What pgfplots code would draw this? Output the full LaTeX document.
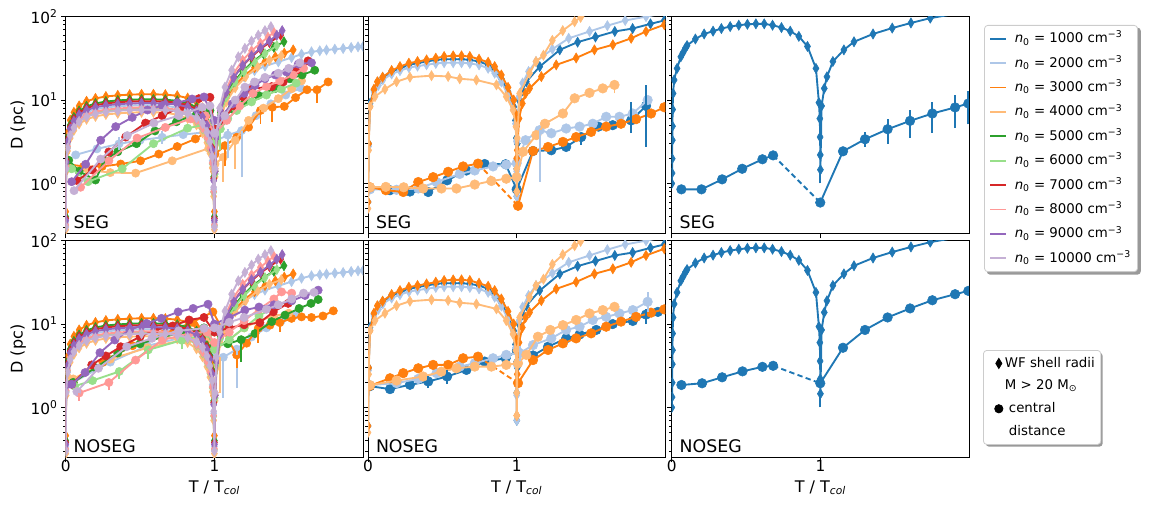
\documentclass[border=0pt]{standalone}
\usepackage{fontspec}
\setmainfont{DejaVu Sans}
\usepackage{pgfplots}
\usepackage{pgfplotstable}
\pgfplotsset{compat=1.18}
\definecolor{t1}{HTML}{1F77B4}
\definecolor{t2}{HTML}{AEC7E8}
\definecolor{t3}{HTML}{FF7F0E}
\definecolor{t4}{HTML}{FFBB78}
\definecolor{t5}{HTML}{2CA02C}
\definecolor{t6}{HTML}{98DF8A}
\definecolor{t7}{HTML}{D62728}
\definecolor{t8}{HTML}{FF9896}
\definecolor{t9}{HTML}{9467BD}
\definecolor{t10}{HTML}{C5B0D5}
\pgfplotsset{
  pdia/.style={color=#1, line width=1.4pt, mark=diamond*, mark size=3.8pt, mark options={solid, xscale=0.8, fill=#1, draw=#1, line width=0.4pt}},
  pcir/.style={color=#1, line width=1.4pt, mark=*, mark size=3.1pt, mark options={solid, fill=#1, draw=#1, line width=0.4pt}},
  pcirb/.style={color=#1, line width=1.4pt, mark=*, mark size=3.6pt, mark options={solid, fill=#1, draw=#1, line width=0.4pt}},
  pdash/.style={color=#1, line width=1.4pt, dash pattern=on 4pt off 2.5pt, no marks},
  perr/.style={color=#1, line width=1.4pt, no marks},
}
\newcommand{\eb}[4]{\addplot[perr=#1] coordinates {(#2,#3) (#2,#4)};}
\newcommand{\paneltag}[1]{\node[anchor=base west, inner sep=0pt, font=\fontsize{13}{15}\selectfont] at (rel axis cs:0.026,0.023) {#1};}

% ---------- left panels: WF shell radii ----------
\pgfplotstableread{
x y
0 0.34
0.003 1.7
0.012 2.98
0.03 4.25
0.055 5.27
0.09 6.29
0.14 7.14
0.2 7.74
0.27 8.16
0.35 8.42
0.43 8.59
0.51 8.67
0.59 8.67
0.67 8.59
0.75 8.08
0.82 7.31
0.88 6.12
0.92 4.93
0.95 3.74
0.97 2.81
0.985 1.87
0.995 0.85
1.0 0.34
1.005 1.3
1.015 3.2
1.04 6.5
1.08 10.5
1.13 14.5
1.2 19
1.27 22.5
1.34 25.5
1.43 28.7
1.519 32.3
1.586 35.5
1.653 37.9
1.709 39
1.754 39.8
1.81 40.8
1.866 41.5
1.92 42.7
1.966 43.5
2.0 44
}\dtwo
\pgfplotstableread{
x y
0 0.46
0.003 2.3
0.012 4.03
0.03 5.75
0.055 7.13
0.09 8.51
0.14 9.66
0.2 10.47
0.27 11.04
0.35 11.39
0.43 11.62
0.51 11.73
0.59 11.73
0.67 11.62
0.75 11.27
0.82 10.58
0.88 9.43
0.92 8.05
0.95 6.33
0.97 4.83
0.985 3.22
0.995 1.38
1.0 0.46
1.005 1.5
1.015 3.5
1.04 6.8
1.08 10.5
1.13 14.5
1.2 19.5
1.27 24.5
1.34 29
1.41 33
1.47 36.5
1.53 40
}\dthree
\pgfplotstableread{
x y
0 0.28
0.003 1.4
0.012 2.45
0.03 3.5
0.055 4.34
0.09 5.18
0.14 5.88
0.2 6.37
0.27 6.72
0.35 6.93
0.43 7.07
0.51 7.14
0.59 7.14
0.67 7.07
0.75 6.65
0.82 6.02
0.88 5.04
0.92 4.06
0.95 3.08
0.97 2.31
0.985 1.54
0.995 0.7
1.0 0.28
1.005 1.2
1.015 3
1.04 6
1.08 9.5
1.14 14
1.21 19
1.29 25
1.37 30
1.45 34
}\dfour
\pgfplotstableread{
x y
0 0.4
0.003 2.0
0.012 3.5
0.03 5.0
0.055 6.2
0.09 7.4
0.14 8.4
0.2 9.1
0.27 9.6
0.35 9.9
0.43 10.1
0.51 10.2
0.59 10.2
0.67 10.1
0.75 9.8
0.82 9.2
0.88 8.2
0.92 7.0
0.95 5.5
0.97 4.2
0.985 2.8
0.995 1.2
1.0 0.4
1.005 1.4
1.015 3.5
1.04 7
1.08 11.5
1.13 16.5
1.19 22
1.26 29
1.33 36
1.40 43
1.468 50
}\dfive
\pgfplotstableread{
x y
0 0.31
0.003 1.56
0.012 2.73
0.03 3.9
0.055 4.84
0.09 5.77
0.14 6.55
0.2 7.1
0.27 7.49
0.35 7.72
0.43 7.88
0.51 7.96
0.59 7.96
0.67 7.88
0.75 7.41
0.82 6.71
0.88 5.62
0.92 4.52
0.95 3.43
0.97 2.57
0.985 1.72
0.995 0.78
1.0 0.31
1.005 1.3
1.015 3.3
1.04 6.8
1.08 11
1.14 16.5
1.2 22
1.27 29
1.34 36
1.42 45
}\dsix
\pgfplotstableread{
x y
0 0.38
0.003 1.9
0.012 3.33
0.03 4.75
0.055 5.89
0.09 7.03
0.14 7.98
0.2 8.65
0.27 9.12
0.35 9.41
0.43 9.6
0.51 9.69
0.59 9.69
0.67 9.6
0.75 9.31
0.82 8.74
0.88 7.79
0.92 6.65
0.95 5.23
0.97 3.99
0.985 2.66
0.995 1.14
1.0 0.38
1.005 1.4
1.015 3.6
1.04 7.5
1.08 12.5
1.13 19
1.19 26
1.25 33
1.31 41
1.37 49
1.445 60
}\dseven
\pgfplotstableread{
x y
0 0.32
0.003 1.6
0.012 2.8
0.03 4.0
0.055 4.96
0.09 5.92
0.14 6.72
0.2 7.28
0.27 7.68
0.35 7.92
0.43 8.08
0.51 8.16
0.59 8.16
0.67 8.08
0.75 7.6
0.82 6.88
0.88 5.76
0.92 4.64
0.95 3.52
0.97 2.64
0.985 1.76
0.995 0.8
1.0 0.32
1.005 1.5
1.015 3.8
1.04 8
1.08 13.5
1.13 21
1.19 30
1.25 39
1.31 48
1.36 57
1.40 65
}\deight
\pgfplotstableread{
x y
0 0.36
0.003 1.8
0.012 3.15
0.03 4.5
0.055 5.58
0.09 6.66
0.14 7.56
0.2 8.19
0.27 8.64
0.35 8.91
0.43 9.09
0.51 9.18
0.59 9.18
0.67 9.09
0.75 8.82
0.82 8.28
0.88 7.38
0.92 6.3
0.95 4.95
0.97 3.78
0.985 2.52
0.995 1.08
1.0 0.36
1.005 1.4
1.015 3.6
1.04 7.5
1.08 12.5
1.13 18.5
1.19 26
1.25 34
1.31 42
1.37 51
1.42 60
1.456 68
}\dnine
\pgfplotstableread{
x y
0 0.3
0.003 1.5
0.012 2.63
0.03 3.75
0.055 4.65
0.09 5.55
0.14 6.3
0.2 6.83
0.27 7.2
0.35 7.43
0.43 7.58
0.51 7.65
0.59 7.65
0.67 7.58
0.75 7.35
0.82 6.9
0.88 6.15
0.92 5.25
0.95 4.13
0.97 3.15
0.985 2.1
0.995 0.9
1.0 0.3
1.005 1.5
1.015 4
1.035 8
1.071 14.3
1.116 22.8
1.161 33
1.205 41.6
1.25 51
1.295 60
1.34 68
1.38 76
}\dten
% ---------- middle panels: WF shell radii ----------
\pgfplotstableread{
x y
0 0.6
0.004 3
0.013 9.1
0.04 13.2
0.07 16
0.1 18.5
0.159 22
0.215 24
0.275 26.4
0.333 27.7
0.394 29
0.456 30.3
0.512 30.9
0.573 30.9
0.629 30.9
0.685 30.3
0.747 29
0.808 26.4
0.852 23
0.897 18
0.942 12.5
0.98 8.3
0.992 5.7
0.998 3.5
1.0 1.5
1.001 0.7
1.004 3
1.016 10
1.038 13
1.065 16.6
1.155 25.2
1.29 40
1.41 49.5
1.53 57
1.66 66.5
1.78 72
1.9 82
1.993 90
}\mone
\pgfplotstableread{
x y
0 0.6
0.004 2.8
0.013 8.5
0.04 12.5
0.07 15
0.1 17.5
0.159 20.5
0.215 22.5
0.275 24.5
0.333 25.5
0.394 26.5
0.456 27.5
0.512 28
0.573 28
0.629 28
0.685 27.5
0.747 26.4
0.808 24
0.852 21
0.897 16.5
0.942 11.5
0.98 7.5
0.992 5.2
0.998 3.2
1.0 1.4
1.001 0.7
1.004 3.2
1.016 11
1.04 16
1.08 22
1.13 29
1.24 40.8
1.35 55
1.49 66.5
1.61 78
1.73 90
1.87 100
1.99 110
}\mtwo
\pgfplotstableread{
x y
0 0.6
0.004 3
0.013 8.3
0.04 13.5
0.063 16.6
0.098 18.8
0.159 22.6
0.215 25.2
0.275 27.7
0.333 29
0.394 30.3
0.456 31.8
0.512 33.3
0.573 33.9
0.629 33.9
0.685 33.3
0.747 30.9
0.808 28.4
0.852 25.2
0.897 20
0.942 14.2
0.98 10
0.992 6.9
0.998 4.8
1.0 2
1.001 0.8
1.004 2.5
1.016 6
1.038 9.1
1.06 12
1.087 13.8
1.166 19.1
1.266 26.4
1.4 32
1.523 40
1.647 46
1.77 55
1.87 66.5
1.993 80
}\mthree
\pgfplotstableread{
x y
0 0.5
0.004 2.5
0.013 8.3
0.047 11
0.114 13.5
0.192 16.6
0.282 18.8
0.427 19.6
0.539 19.2
0.617 18
0.729 17.4
0.864 15.2
0.93 11
0.975 7.6
0.995 4.8
1.0 1.5
1.001 0.8
1.004 3.5
1.02 12
1.087 21
1.13 29
1.18 34.5
1.24 52
1.31 68
1.39 87
1.43 98
1.5 115
}\mfour
% ---------- right panels: WF shell radii ----------
\pgfplotstableread{
x y
0 1.0
0.002 1.33
0.003 1.98
0.004 3.3
0.005 4.86
0.006 7.7
0.009 12
0.016 17.4
0.036 24
0.061 33
0.076 37
0.092 42
0.103 45
0.159 54
0.218 62
0.278 67
0.334 72
0.393 76
0.451 79
0.509 81
0.566 82
0.622 82
0.678 79
0.738 74
0.797 67
0.855 58
0.913 44
0.97 24
0.99 9.3
0.996 6
0.998 3.6
0.999 2.2
1.0 1.46
1.008 8.5
1.026 13.8
1.044 19
1.084 29
1.158 40
1.226 50
1.354 62
1.483 73
1.609 84
1.739 96
1.865 105
1.995 115
}\rone

\begin{document}
\begin{tikzpicture}
\path[use as bounding box] (0,0) rectangle (861.75pt,378pt);
% legend shadows (drawn first, beneath the legend boxes)
\fill[black, opacity=0.4, rounded corners=2.5pt] (740.1pt,172pt) rectangle (855.6pt,357.3pt);
\fill[black, opacity=0.4, rounded corners=2.5pt] (739.3pt,43pt) rectangle (827pt,113.5pt);

% ================= top-left SEG =================
\begin{axis}[scale only axis, width=223pt, height=162.75pt, anchor=north west, at={(49.3pt,365.5pt)},
    ymode=log, xmin=0, xmax=2, ymin=0.25, ymax=100,
    xtick={0,1}, ytick={1,10,100},
    minor ytick={0.3,0.4,0.5,0.6,0.7,0.8,0.9,2,3,4,5,6,7,8,9,20,30,40,50,60,70,80,90},
    tick align=outside, xtick pos=left, ytick pos=left,
    major tick length=3.5pt, minor tick length=2pt,
    tick style={black, line width=0.6pt}, axis line style={line width=0.75pt},
    tick label style={font=\fontsize{11.5}{13}\selectfont},
    yticklabel style={inner sep=2.3pt},
    label style={font=\fontsize{12}{14}\selectfont},
    ylabel style={at={(axis description cs:-0.16,0.5)}, anchor=center},
    clip marker paths=true,
    ylabel={D (pc)}, yticklabels={10\textsuperscript{0},10\textsuperscript{1},10\textsuperscript{2}},
    xticklabels={}]
\addplot[pdia=t2] table {\dtwo};
\addplot[pcir=t2] coordinates {(0.067,2.2) (0.21,2.6) (0.358,2.98) (0.5,3.3) (0.649,3.58) (0.79,3.85) (0.928,4.1) (1.0,3.2) (1.09,3.8) (1.183,4.3) (1.28,6.5) (1.38,9) (1.48,11.5) (1.58,14)};
\addplot[pdia=t3] table {\dthree};
\addplot[pcir=t3] coordinates {(0.01,1.7) (0.12,1.6) (0.245,1.6) (0.37,1.71) (0.503,1.87) (0.626,2.25) (0.75,2.77) (0.872,3.42) (0.962,4.3) (1.004,2.25) (1.071,2.84) (1.15,3.58) (1.23,4.73) (1.31,7.5) (1.39,8.2) (1.47,8.4) (1.546,10.7) (1.623,13.3) (1.69,13.3) (1.765,16.5)};
\addplot[pdia=t4] table {\dfour};
\addplot[pcir=t4] coordinates {(0.01,1.6) (0.15,1.45) (0.3,1.35) (0.47,1.33) (0.716,1.87) (0.962,2.64) (1.004,1.71) (1.06,2.06) (1.14,3.27) (1.23,5.7) (1.33,8) (1.43,10.4) (1.52,13.7) (1.586,17)};
\addplot[pdia=t5] table {\dfive};
\addplot[pcir=t5] coordinates {(0.02,1.9) (0.09,1.4) (0.2,1.1) (0.26,1.9) (0.35,2.4) (0.476,3.0) (0.6,4.26) (0.745,5.5) (0.88,6.8) (0.97,7.5) (1.0,4.5) (1.05,5.5) (1.116,7.85) (1.205,9.5) (1.295,11.4) (1.407,13.7) (1.508,18) (1.59,20) (1.675,22.8)};
\addplot[pdia=t6] table {\dsix};
\addplot[pcir=t6] coordinates {(0.04,1.5) (0.15,1.05) (0.38,1.5) (0.59,3.0) (0.82,4.6) (0.97,5.2) (1.0,3) (1.04,4.5) (1.09,6) (1.15,7.5) (1.25,9.5) (1.35,11.5) (1.45,13.5) (1.55,16)};
\addplot[pdia=t7] table {\dseven};
\addplot[pcir=t7] coordinates {(0.078,1.08) (0.179,1.45) (0.29,2.39) (0.403,3.6) (0.537,5.3) (0.649,6.5) (0.772,8.2) (0.895,10.4) (0.97,10.8) (1.0,4.5) (1.06,5.8) (1.13,8.5) (1.19,11) (1.25,13.7) (1.385,14.5) (1.463,16.5) (1.553,22.8) (1.63,29.5)};
\addplot[pdia=t8] table {\deight};
\addplot[pcir=t8] coordinates {(0.1,0.9) (0.29,1.87) (0.48,3.5) (0.67,4.7) (0.84,5.95) (0.94,6.5) (1.0,3.9) (1.083,5.7) (1.17,8.5) (1.26,12) (1.35,14.5) (1.44,17) (1.53,20) (1.6,24)};
\addplot[pdia=t9] table {\dnine};
\addplot[pcir=t9] coordinates {(0.04,1.05) (0.134,1.7) (0.235,3.3) (0.336,4.8) (0.447,6.2) (0.55,7.6) (0.65,8.6) (0.75,9.3) (0.85,10.3) (0.93,10.9) (1.0,5.7) (1.05,6.5) (1.12,9) (1.2,12) (1.273,15) (1.34,18) (1.41,20) (1.485,21.7) (1.564,27) (1.653,28)};
\addplot[pdia=t10] table {\dten};
\addplot[pcir=t10] coordinates {(0.056,0.82) (0.235,1.96) (0.414,3.75) (0.593,5.3) (0.76,6.5) (0.917,8.2) (0.97,8.5) (1.0,4) (1.07,6.5) (1.14,10) (1.205,14.3) (1.27,16.5) (1.34,18.7) (1.43,21) (1.5,24) (1.575,28)};
\eb{t2}{0.358}{2.5}{3.6}
\eb{t2}{0.649}{3.0}{4.3}
\eb{t2}{1.183}{1.18}{4.3}
\eb{t2}{1.09}{2.0}{4.5}
\eb{t3}{1.31}{5.2}{7.5}
\eb{t3}{1.39}{5.5}{8.2}
\eb{t3}{1.69}{9.2}{13.3}
\eb{t3}{1.071}{1.6}{2.84}
\eb{t4}{1.06}{1.05}{2.06}
\eb{t4}{1.14}{1.5}{3.27}
\eb{t6}{1.04}{2.5}{4.5}
\paneltag{SEG}
\end{axis}

% ================= top-middle SEG =================
\begin{axis}[scale only axis, width=223pt, height=162.75pt, anchor=north west, at={(276pt,365.5pt)},
    ymode=log, xmin=0, xmax=2, ymin=0.25, ymax=100,
    xtick={0,1}, ytick={1,10,100},
    minor ytick={0.3,0.4,0.5,0.6,0.7,0.8,0.9,2,3,4,5,6,7,8,9,20,30,40,50,60,70,80,90},
    tick align=outside, xtick pos=left, ytick pos=left,
    major tick length=3.5pt, minor tick length=2pt,
    tick style={black, line width=0.6pt}, axis line style={line width=0.75pt},
    clip marker paths=true,
    yticklabels={}, xticklabels={}]
\addplot[pdia=t1] table {\mone};
\addplot[pcirb=t1] coordinates {(0.013,0.88) (0.148,0.83) (0.282,0.80) (0.405,0.79) (0.532,1.09) (0.662,1.43) (0.785,1.71) (0.926,1.70) (1.0,0.85) (1.11,2.45) (1.233,2.5) (1.333,2.74) (1.434,3.6) (1.55,4.8) (1.646,5.0) (1.77,5.7) (1.87,8.5)};
\addplot[pdia=t2] table {\mtwo};
\addplot[pcirb=t2] coordinates {(0.013,0.85) (0.192,0.84) (0.338,0.87) (0.461,1.04) (0.617,1.3) (0.718,1.43) (0.841,1.6) (0.93,1.68) (1.0,1.75) (1.06,3.3) (1.154,4.35) (1.233,4.0) (1.333,4.56) (1.423,4.8) (1.512,5.2) (1.602,6.3) (1.691,6.3) (1.781,6.9) (1.881,10)};
\addplot[pdia=t3] table {\mthree};
\addplot[pcirb=t3] coordinates {(0.013,0.9) (0.12,0.83) (0.237,0.79) (0.338,1.04) (0.438,1.19) (0.539,1.38) (0.64,1.6) (0.74,1.73)};
\addplot[pdash=t3] coordinates {(0.74,1.73) (1.009,0.54)};
\addplot[pcirb=t3] coordinates {(1.009,0.54) (1.11,2.45) (1.211,2.74) (1.311,3.15) (1.4,3.6) (1.501,4.15) (1.602,4.8) (1.702,5.2) (1.803,5.9) (1.904,6.9) (1.993,8.2)};
\addplot[pdia=t4] table {\mfour};
\addplot[pcirb=t4] coordinates {(0.013,0.9) (0.12,0.91) (0.24,0.9) (0.371,0.87) (0.494,0.87) (0.595,0.87) (0.718,0.97) (0.83,1.07) (0.93,1.14) (1.0,1.19) (1.043,2.4) (1.132,3.8) (1.19,5.2) (1.311,6.9) (1.39,10.5) (1.49,12.2) (1.579,13.8) (1.658,15.2)};
\eb{t2}{1.154}{1.05}{4.35}
\eb{t1}{1.77}{4.0}{9.55}
\eb{t1}{1.87}{2.74}{15.3}
\eb{t1}{1.434}{2.9}{3.6}
\eb{t4}{1.658}{12}{15.2}
\paneltag{SEG}
\end{axis}

% ================= top-right SEG =================
\begin{axis}[scale only axis, width=223pt, height=162.75pt, anchor=north west, at={(503.8pt,365.5pt)},
    ymode=log, xmin=0, xmax=2, ymin=0.25, ymax=100,
    xtick={0,1}, ytick={1,10,100},
    minor ytick={0.3,0.4,0.5,0.6,0.7,0.8,0.9,2,3,4,5,6,7,8,9,20,30,40,50,60,70,80,90},
    tick align=outside, xtick pos=left, ytick pos=left,
    major tick length=3.5pt, minor tick length=2pt,
    tick style={black, line width=0.6pt}, axis line style={line width=0.75pt},
    clip marker paths=true,
    yticklabels={}, xticklabels={},
    legend image code/.code={\draw[#1] (0pt,0pt) -- (11.8pt,0pt);},
    legend cell align=left,
    legend style={at={(1.0505,0.9617)}, anchor=north west,
      draw=black!20, line width=0.6pt, fill=white, rounded corners=2.5pt,
      font=\fontsize{10}{12}\selectfont, inner xsep=3.5pt, inner ysep=3pt, row sep=4.3pt,
      nodes={inner sep=1.5pt, text height=8.5pt, text depth=2.5pt},
      /tikz/every odd column/.append style={column sep=4.5pt}}]
\addlegendimage{color=t1, line width=1.4pt}
\addlegendentry{\textit{n}\textsubscript{0} = 1000 cm\textsuperscript{−3}}
\addlegendimage{color=t2, line width=1.4pt}
\addlegendentry{\textit{n}\textsubscript{0} = 2000 cm\textsuperscript{−3}}
\addlegendimage{color=t3, line width=1.4pt}
\addlegendentry{\textit{n}\textsubscript{0} = 3000 cm\textsuperscript{−3}}
\addlegendimage{color=t4, line width=1.4pt}
\addlegendentry{\textit{n}\textsubscript{0} = 4000 cm\textsuperscript{−3}}
\addlegendimage{color=t5, line width=1.4pt}
\addlegendentry{\textit{n}\textsubscript{0} = 5000 cm\textsuperscript{−3}}
\addlegendimage{color=t6, line width=1.4pt}
\addlegendentry{\textit{n}\textsubscript{0} = 6000 cm\textsuperscript{−3}}
\addlegendimage{color=t7, line width=1.4pt}
\addlegendentry{\textit{n}\textsubscript{0} = 7000 cm\textsuperscript{−3}}
\addlegendimage{color=t8, line width=1.4pt}
\addlegendentry{\textit{n}\textsubscript{0} = 8000 cm\textsuperscript{−3}}
\addlegendimage{color=t9, line width=1.4pt}
\addlegendentry{\textit{n}\textsubscript{0} = 9000 cm\textsuperscript{−3}}
\addlegendimage{color=t10, line width=1.4pt}
\addlegendentry{\textit{n}\textsubscript{0} = 10000 cm\textsuperscript{−3}}
\addplot[pdia=t1] table {\rone};
\addplot[pcirb=t1] coordinates {(0.065,0.85) (0.2,0.85) (0.339,1.12) (0.474,1.5) (0.61,1.95) (0.682,2.17)};
\addplot[pdash=t1] coordinates {(0.682,2.17) (0.999,0.59)};
\addplot[pcirb=t1] coordinates {(0.999,0.59) (1.152,2.43) (1.3,3.39) (1.452,4.47) (1.603,5.63) (1.753,6.9) (1.906,8.16) (1.995,9.1)};
\eb{t1}{1.0}{1.0}{1.46}
\eb{t1}{1.3}{2.74}{4.15}
\eb{t1}{1.452}{3.0}{6.0}
\eb{t1}{1.603}{3.55}{7.7}
\eb{t1}{1.753}{4.03}{9.55}
\eb{t1}{1.906}{4.6}{11.5}
\eb{t1}{1.995}{5.1}{12.9}
\paneltag{SEG}
\end{axis}

% ================= bottom-left NOSEG =================
\begin{axis}[scale only axis, width=223pt, height=162.75pt, anchor=north west, at={(49.3pt,197.5pt)},
    ymode=log, xmin=0, xmax=2, ymin=0.25, ymax=100,
    xtick={0,1}, ytick={1,10,100},
    minor ytick={0.3,0.4,0.5,0.6,0.7,0.8,0.9,2,3,4,5,6,7,8,9,20,30,40,50,60,70,80,90},
    tick align=outside, xtick pos=left, ytick pos=left,
    major tick length=3.5pt, minor tick length=2pt,
    tick style={black, line width=0.6pt}, axis line style={line width=0.75pt},
    tick label style={font=\fontsize{11.5}{13}\selectfont},
    xticklabel style={inner sep=0pt, yshift=1.8pt}, yticklabel style={inner sep=2.3pt},
    label style={font=\fontsize{12}{14}\selectfont},
    xlabel style={at={(axis description cs:0.5,-0.139)}, anchor=center},
    ylabel style={at={(axis description cs:-0.16,0.5)}, anchor=center},
    clip marker paths=true,
    ylabel={D (pc)}, yticklabels={10\textsuperscript{0},10\textsuperscript{1},10\textsuperscript{2}},
    xlabel={T / T\textsubscript{\textit{col}}}, xticklabels={0,1}]
\addplot[pdia=t2] table {\dtwo};
\addplot[pcir=t2] coordinates {(0.05,2.0) (0.3,3.5) (0.55,5.5) (0.8,7) (0.95,8) (1.0,4) (1.06,4) (1.15,5) (1.25,7) (1.35,9) (1.45,11) (1.55,13)};
\addplot[pdia=t3] table {\dthree};
\addplot[pcir=t3] coordinates {(0.05,2.0) (0.25,3.5) (0.45,5.5) (0.65,7.5) (0.85,10.5) (0.99,14) (1.15,4.26) (1.217,5.9) (1.295,8.9) (1.374,9.7) (1.44,10.4) (1.519,11.7) (1.586,12.2) (1.653,12) (1.73,12.5) (1.80,14.4)};
\addplot[pdia=t4] table {\dfour};
\addplot[pcir=t4] coordinates {(0.05,2.2) (0.3,3.8) (0.55,5.2) (0.8,6.5) (0.95,7) (1.0,5) (1.1,6.5) (1.2,9) (1.3,11) (1.4,12.5) (1.5,13.5)};
\addplot[pdia=t5] table {\dfive};
\addplot[pcir=t5] coordinates {(0.05,2.0) (0.2,3.0) (0.35,4.5) (0.5,5.8) (0.65,7.0) (0.8,8.0) (0.93,9) (1.0,5.5) (1.09,5.8) (1.18,6.5) (1.273,7.7) (1.385,10.7) (1.475,12.8) (1.57,15.4) (1.65,17.7) (1.698,19.7)};
\addplot[pdia=t6] table {\dsix};
\addplot[pcir=t6] coordinates {(0.06,1.8) (0.18,2.1) (0.36,2.7) (0.555,4.9) (0.78,6.4) (0.96,7.7) (1.0,5) (1.1,6.5) (1.2,9) (1.3,12.5) (1.425,17) (1.52,19)};
\addplot[pdia=t7] table {\dseven};
\addplot[pcir=t7] coordinates {(0.04,1.9) (0.175,3.24) (0.27,4.15) (0.37,5.35) (0.5,7.05) (0.6,8.5) (0.72,9.5) (0.83,11.2) (0.93,12) (1.0,8) (1.1,9) (1.2,9.8) (1.306,10.4) (1.396,14) (1.496,17.7)};
\addplot[pdia=t8] table {\deight};
\addplot[pcir=t8] coordinates {(0.09,1.49) (0.29,1.99) (0.47,3.7) (0.65,6.44) (0.83,7.7) (0.95,8) (1.0,6) (1.1,8) (1.2,11) (1.3,15) (1.4,20) (1.452,24.3) (1.52,23.5)};
\addplot[pdia=t9] table {\dnine};
\addplot[pcir=t9] coordinates {(0.04,1.9) (0.13,2.62) (0.23,4.54) (0.33,6.44) (0.431,8.5) (0.543,10.2) (0.644,11.7) (0.756,14) (0.857,15.4) (0.957,17.3) (1.0,10) (1.1,12) (1.205,14.7) (1.3,16) (1.4,17) (1.52,19) (1.61,22) (1.698,25.5)};
\addplot[pdia=t10] table {\dten};
\addplot[pcir=t10] coordinates {(0.075,1.55) (0.22,2.95) (0.41,5.35) (0.58,6.75) (0.76,8.3) (0.93,8.9) (1.0,9) (1.1,10.5) (1.2,12) (1.35,15) (1.43,17) (1.52,20) (1.6,23.5) (1.67,24)};
\eb{t6}{0.36}{2.2}{2.7}
\eb{t6}{0.555}{3.8}{4.9}
\eb{t6}{0.78}{5.0}{6.4}
\eb{t8}{0.09}{1.2}{1.49}
\eb{t8}{0.29}{1.6}{1.99}
\eb{t2}{1.06}{1.3}{4.0}
\eb{t2}{1.15}{1.7}{5}
\eb{t4}{1.04}{1.5}{4}
\eb{t5}{1.18}{3.5}{6.5}
\eb{t3}{1.15}{3.0}{4.26}
\eb{t3}{1.295}{6}{8.9}
\eb{t3}{1.44}{8}{10.4}
\paneltag{NOSEG}
\end{axis}

% ================= bottom-middle NOSEG =================
\begin{axis}[scale only axis, width=223pt, height=162.75pt, anchor=north west, at={(276pt,197.5pt)},
    ymode=log, xmin=0, xmax=2, ymin=0.25, ymax=100,
    xtick={0,1}, ytick={1,10,100},
    minor ytick={0.3,0.4,0.5,0.6,0.7,0.8,0.9,2,3,4,5,6,7,8,9,20,30,40,50,60,70,80,90},
    tick align=outside, xtick pos=left, ytick pos=left,
    major tick length=3.5pt, minor tick length=2pt,
    tick style={black, line width=0.6pt}, axis line style={line width=0.75pt},
    tick label style={font=\fontsize{11.5}{13}\selectfont},
    xticklabel style={inner sep=0pt, yshift=1.8pt},
    label style={font=\fontsize{12}{14}\selectfont},
    xlabel style={at={(axis description cs:0.5,-0.139)}, anchor=center},
    clip marker paths=true,
    yticklabels={}, xlabel={T / T\textsubscript{\textit{col}}}, xticklabels={0,1}]
\addplot[pdia=t1] table {\mone};
\addplot[pcirb=t1] coordinates {(0.013,1.8) (0.148,1.66) (0.282,1.87) (0.405,2.05) (0.532,2.35) (0.662,2.82) (0.785,3.55) (0.926,3.89) (1.002,4.8) (1.11,4.2) (1.211,5.35) (1.333,6.74) (1.423,7.5) (1.535,8.5) (1.646,10) (1.781,10.9) (1.87,13) (1.95,14)};
\addplot[pdia=t2] table {\mtwo};
\addplot[pcirb=t2] coordinates {(0.013,1.85) (0.192,1.96) (0.338,2.2) (0.461,2.58) (0.617,3.09) (0.718,3.39) (0.841,3.89) (0.93,4.27) (1.02,4.47) (1.11,5.6) (1.233,6.74) (1.333,8.5) (1.423,9.3) (1.512,11.2) (1.602,12.2) (1.691,13.4) (1.781,14.7) (1.881,18.5)};
\addplot[pdia=t3] table {\mthree};
\addplot[pcirb=t3] coordinates {(0.013,1.82) (0.148,2.24) (0.237,2.58) (0.338,2.95) (0.438,3.24) (0.539,3.24) (0.64,3.89) (0.74,4.07)};
\addplot[pdash=t3] coordinates {(0.74,4.07) (1.009,1.96)};
\addplot[pcirb=t3] coordinates {(1.009,1.96) (1.11,3.7) (1.211,4.89) (1.311,5.87) (1.4,6.74) (1.501,7.74) (1.602,9.3) (1.702,10.7) (1.803,12.2) (1.904,13.7) (1.993,15)};
\addplot[pdia=t4] table {\mfour};
\addplot[pcirb=t4] coordinates {(0.013,1.85) (0.192,2.1) (0.371,2.35) (0.494,2.69) (0.595,2.95) (0.718,3.09) (0.83,3.09) (0.93,3.24) (1.009,3.39) (1.065,4.27) (1.143,7.05) (1.226,8.5) (1.311,9.7) (1.4,11.2) (1.49,13.4) (1.579,14.7) (1.658,16.1)};
\eb{t2}{1.881}{14}{24}
\eb{t1}{0.405}{1.7}{2.4}
\eb{t1}{0.532}{1.9}{2.8}
\eb{t2}{1.02}{3.6}{5.5}
\eb{t1}{1.87}{10}{15}
\paneltag{NOSEG}
\end{axis}

% ================= bottom-right NOSEG =================
\begin{axis}[scale only axis, width=223pt, height=162.75pt, anchor=north west, at={(503.8pt,197.5pt)},
    ymode=log, xmin=0, xmax=2, ymin=0.25, ymax=100,
    xtick={0,1}, ytick={1,10,100},
    minor ytick={0.3,0.4,0.5,0.6,0.7,0.8,0.9,2,3,4,5,6,7,8,9,20,30,40,50,60,70,80,90},
    tick align=outside, xtick pos=left, ytick pos=left,
    major tick length=3.5pt, minor tick length=2pt,
    tick style={black, line width=0.6pt}, axis line style={line width=0.75pt},
    tick label style={font=\fontsize{11.5}{13}\selectfont},
    xticklabel style={inner sep=0pt, yshift=1.8pt},
    label style={font=\fontsize{12}{14}\selectfont},
    xlabel style={at={(axis description cs:0.5,-0.139)}, anchor=center},
    clip marker paths=true,
    yticklabels={}, xlabel={T / T\textsubscript{\textit{col}}}, xticklabels={0,1},
    legend cell align=left,
    legend style={at={(1.047,0.496)}, anchor=north west,
      draw=black!20, line width=0.6pt, fill=white, rounded corners=2.5pt,
      font=\fontsize{10}{12}\selectfont, inner xsep=3pt, inner ysep=3pt, row sep=3.5pt,
      nodes={inner sep=1.5pt, text height=8pt, text depth=2.5pt}}]
\addlegendimage{only marks, black, mark=diamond*, mark size=3.8pt, mark options={xscale=0.8}}
\addlegendentry{WF shell radii}
\addlegendimage{empty legend}
\addlegendentry{M > 20 M\textsubscript{⊙}}
\addlegendimage{only marks, black, mark=*, mark size=3.1pt}
\addlegendentry{\hspace{3pt}central}
\addlegendimage{empty legend}
\addlegendentry{\hspace{3pt}distance}
\addplot[pdia=t1] table {\rone};
\addplot[pcirb=t1] coordinates {(0.065,1.86) (0.204,1.95) (0.339,2.3) (0.476,2.71) (0.61,3.07) (0.682,3.16)};
\addplot[pdash=t1] coordinates {(0.682,3.16) (0.999,1.95)};
\addplot[pcirb=t1] coordinates {(0.999,1.95) (1.152,5.2) (1.3,8.5) (1.452,12.0) (1.603,15.4) (1.753,19.3) (1.906,22.8) (1.995,25)};
\eb{t1}{1.0}{1.0}{1.46}
\paneltag{NOSEG}
\end{axis}
\end{tikzpicture}
\end{document}
